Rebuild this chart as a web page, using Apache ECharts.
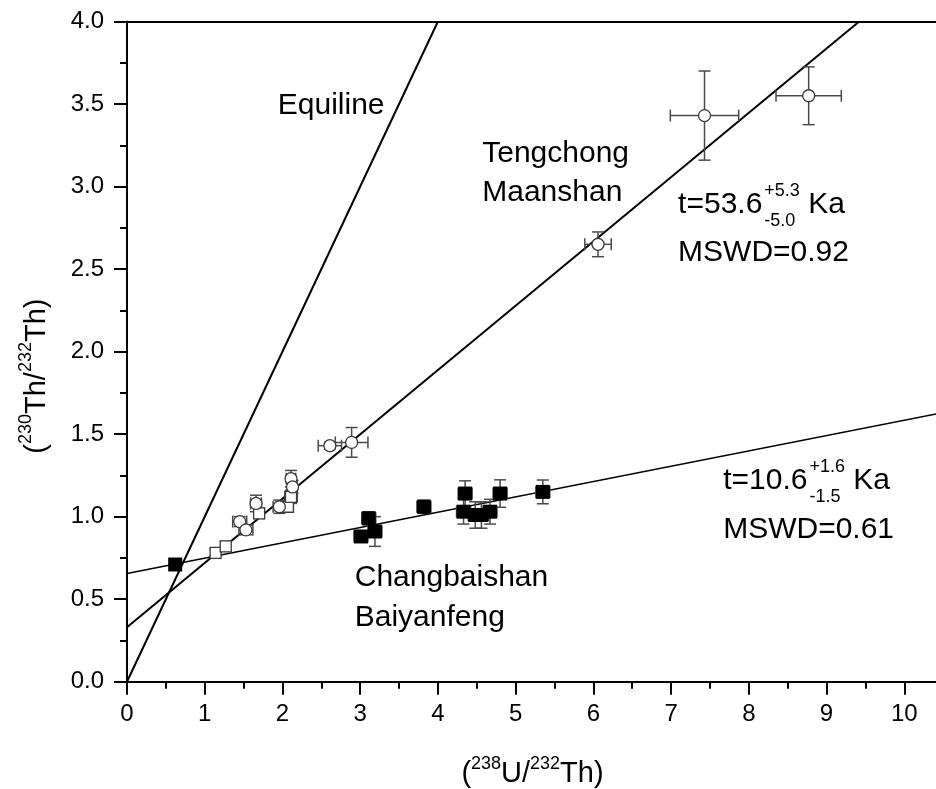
<!DOCTYPE html>
<html>
<head>
<meta charset="utf-8">
<script src="https://cdn.jsdelivr.net/npm/echarts@6/dist/echarts.min.js"></script>
<style>
  html, body { margin: 0; padding: 0; background: #fff; }
  #main { width: 936px; height: 789px; }
</style>
</head>
<body>
<div id="main"></div>
<script>
// Tengchong Maanshan samples (open circles): (238U/232Th), (230Th/232Th) and 1-sigma errors
const tengCircleX    = [1.45, 1.53, 1.66, 1.96, 2.11, 2.13, 2.61, 2.89, 6.06, 7.43, 8.77];
const tengCircleY    = [0.97, 0.92, 1.08, 1.06, 1.23, 1.18, 1.43, 1.45, 2.65, 3.43, 3.55];
const tengCircleXErr = [0.09, 0.09, 0.07, 0.08, 0.06, 0.06, 0.15, 0.21, 0.17, 0.44, 0.42];
const tengCircleYErr = [0.03, 0.03, 0.05, 0.04, 0.05, 0.04, 0.02, 0.09, 0.075, 0.27, 0.175];

// Tengchong Maanshan samples (open squares)
const tengSquareX    = [1.14, 1.27, 1.70, 2.07, 2.11];
const tengSquareY    = [0.78, 0.82, 1.02, 1.06, 1.12];
const tengSquareXErr = [0.06, 0.05, 0.06, 0.07, 0.08];
const tengSquareYErr = [0.02, 0.03, 0.03, 0.03, 0.04];

// Changbaishan Baiyanfeng samples (filled squares)
const changX    = [0.62, 3.01, 3.11, 3.19, 3.82, 4.33, 4.35, 4.48, 4.56, 4.67, 4.80, 5.35];
const changY    = [0.71, 0.88, 0.99, 0.91, 1.06, 1.03, 1.14, 1.01, 1.01, 1.03, 1.14, 1.15];
const changXErr = [0.03, 0.09, 0.09, 0.09, 0.09, 0.09, 0.09, 0.09, 0.09, 0.09, 0.09, 0.09];
const changYErr = [0.02, 0.03, 0.04, 0.09, 0.04, 0.075, 0.077, 0.08, 0.08, 0.075, 0.083, 0.072];

// Reference lines: equiline and the two isochrons (end points)
const equiline      = [[0, 0], [4, 4]];
const tengIsochron  = [[0, 0.33], [9.42, 4.0]];
const changIsochron = [[0, 0.655], [10.5, 1.63]];

// Axis ranges and tick steps
const xRange = [0, 11], xStep = 1;
const yRange = [0, 4], yStep = 0.5;

const FONT = '"Liberation Sans", Arial, sans-serif';

function rows(xs, ys, dxs, dys) {
  return xs.map((x, i) => [x, ys[i], dxs[i], dys[i]]);
}

function errorBars(params, api) {
  const x = api.value(0), y = api.value(1), dx = api.value(2), dy = api.value(3);
  const c = api.coord([x, y]);
  const l = api.coord([x - dx, y])[0], r = api.coord([x + dx, y])[0];
  const t = api.coord([x, y + dy])[1], b = api.coord([x, y - dy])[1];
  const cap = 6;
  const seg = (x1, y1, x2, y2) => ({
    type: 'line',
    shape: { x1, y1, x2, y2 },
    style: { stroke: '#4a4a4a', lineWidth: 1.5, fill: null }
  });
  return {
    type: 'group',
    children: [
      seg(l, c[1], r, c[1]),
      seg(l, c[1] - cap, l, c[1] + cap),
      seg(r, c[1] - cap, r, c[1] + cap),
      seg(c[0], t, c[0], b),
      seg(c[0] - cap, t, c[0] + cap, t),
      seg(c[0] - cap, b, c[0] + cap, b)
    ]
  };
}

function errSeries(data) {
  return {
    type: 'custom',
    renderItem: errorBars,
    data: data,
    encode: { x: 0, y: 1 },
    clip: false,
    z: 3,
    silent: true
  };
}

function refLine(data, width) {
  return {
    type: 'line',
    data: data,
    showSymbol: false,
    symbol: 'none',
    lineStyle: { color: '#000', width: width },
    z: 2,
    silent: true
  };
}

const supRich = {
  p: { fontSize: 29, lineHeight: 34, verticalAlign: 'bottom', color: '#000', fontFamily: FONT },
  s: { fontSize: 18, lineHeight: 18, verticalAlign: 'top', color: '#000', fontFamily: FONT }
};

const chart = echarts.init(document.getElementById('main'), null, { renderer: 'canvas' });

chart.setOption({
  animation: false,
  backgroundColor: '#fff',
  textStyle: { fontFamily: FONT },
  // the plot runs slightly past the right edge of the page
  grid: {
    left: 127, top: 21.5, right: -46, bottom: 107.3,
    containLabel: false,
    outerBoundsMode: 'none'
  },
  xAxis: [
    {
      type: 'value',
      min: xRange[0], max: xRange[1], interval: xStep,
      position: 'bottom',
      name: '{p|(}{s|238}{p|U/}{s|232}{p|Th)}',
      nameLocation: 'middle',
      nameGap: 73,
      nameTextStyle: { rich: supRich, padding: [0, 44, 0, 0] },
      axisLine: { show: true, onZero: false, lineStyle: { color: '#000', width: 2 } },
      axisTick: { show: true, inside: false, length: 13, lineStyle: { color: '#000', width: 2 } },
      minorTick: { show: true, splitNumber: 2, length: 7, lineStyle: { color: '#000', width: 2 } },
      axisLabel: { color: '#000', fontSize: 24, margin: 21, fontFamily: FONT },
      splitLine: { show: false }
    },
    {
      type: 'value',
      min: xRange[0], max: xRange[1], interval: xStep,
      position: 'top',
      axisLine: { show: true, onZero: false, lineStyle: { color: '#000', width: 2 } },
      axisTick: { show: false },
      axisLabel: { show: false },
      splitLine: { show: false }
    }
  ],
  yAxis: {
    type: 'value',
    min: yRange[0], max: yRange[1], interval: yStep,
    name: '{p|(}{s|230}{p|Th/}{s|232}{p|Th)}',
    nameLocation: 'middle',
    nameRotate: 90,
    nameGap: 76,
    nameTextStyle: { rich: supRich, padding: [0, 49, 0, 0] },
    axisLine: { show: true, onZero: false, lineStyle: { color: '#000', width: 2 } },
    axisTick: { show: true, inside: false, length: 13, lineStyle: { color: '#000', width: 2 } },
    minorTick: { show: true, splitNumber: 2, length: 7, lineStyle: { color: '#000', width: 2 } },
    axisLabel: { color: '#000', fontSize: 24, margin: 23, fontFamily: FONT, formatter: v => v.toFixed(1) },
    splitLine: { show: false }
  },
  series: [
    refLine(equiline, 2),
    refLine(tengIsochron, 2),
    refLine(changIsochron, 1.5),
    errSeries(rows(tengCircleX, tengCircleY, tengCircleXErr, tengCircleYErr)),
    errSeries(rows(tengSquareX, tengSquareY, tengSquareXErr, tengSquareYErr)),
    errSeries(rows(changX, changY, changXErr, changYErr)),
    {
      type: 'scatter',
      data: tengSquareX.map((x, i) => [x, tengSquareY[i]]),
      symbol: 'rect',
      symbolSize: 11,
      itemStyle: { color: '#fff', borderColor: '#3a3a3a', borderWidth: 1.3, opacity: 1 },
      z: 4
    },
    {
      type: 'scatter',
      data: tengCircleX.map((x, i) => [x, tengCircleY[i]]),
      symbol: 'circle',
      symbolSize: 12,
      itemStyle: { color: '#fff', borderColor: '#3a3a3a', borderWidth: 1.3, opacity: 1 },
      z: 5
    },
    {
      type: 'scatter',
      data: changX.map((x, i) => [x, changY[i]]),
      symbol: 'rect',
      symbolSize: 14,
      itemStyle: { color: '#000', opacity: 1 },
      z: 5
    }
  ]
});

// ---- text annotations, anchored in data coordinates (left edge, vertical centre) ----
const measureCtx = document.createElement('canvas').getContext('2d');
function textWidth(str, size) {
  measureCtx.font = size + 'px ' + FONT;
  return measureCtx.measureText(str).width;
}
function toPx(pt) {
  return chart.convertToPixel({ gridIndex: 0 }, pt);
}
function label(str, x, y, size) {
  return {
    type: 'text',
    x: x, y: y,
    silent: true,
    style: {
      text: str,
      fontSize: size, fontFamily: FONT,
      font: size + 'px ' + FONT,
      fill: '#000',
      align: 'left', textAlign: 'left',
      verticalAlign: 'middle', textVerticalAlign: 'middle'
    }
  };
}

const BIG = 30, SMALL = 18;
const plainLabels = [
  ['Equiline',     [1.94, 3.49]],
  ['Tengchong',    [4.57, 3.20]],
  ['Maanshan',     [4.57, 2.96]],
  ['MSWD=0.92',    [7.09, 2.60]],
  ['MSWD=0.61',    [7.67, 0.92]],
  ['Changbaishan', [2.93, 0.63]],
  ['Baiyanfeng',   [2.93, 0.39]]
];
// age labels: main text, superscript, subscript, unit
const ageLabels = [
  ['t=53.6', '+5.3', '-5.0', 'Ka', [7.09, 2.89]],
  ['t=10.6', '+1.6', '-1.5', 'Ka', [7.67, 1.215]]
];

const elements = [];
plainLabels.forEach(([str, pt]) => {
  const p = toPx(pt);
  elements.push(label(str, p[0], p[1], BIG));
});
ageLabels.forEach(([main, sup, sub, unit, pt]) => {
  const p = toPx(pt);
  const w = textWidth(main, BIG);
  const xs = p[0] + w + 2;
  elements.push(label(main, p[0], p[1], BIG));
  elements.push(label(sup, xs, p[1] - 14, SMALL));
  elements.push(label(sub, xs, p[1] + 16, SMALL));
  const ws = Math.max(textWidth(sup, SMALL), textWidth(sub, SMALL));
  elements.push(label(unit, xs + ws + textWidth(' ', BIG), p[1], BIG));
});

chart.setOption({ graphic: { elements: elements } });
</script>
</body>
</html>
